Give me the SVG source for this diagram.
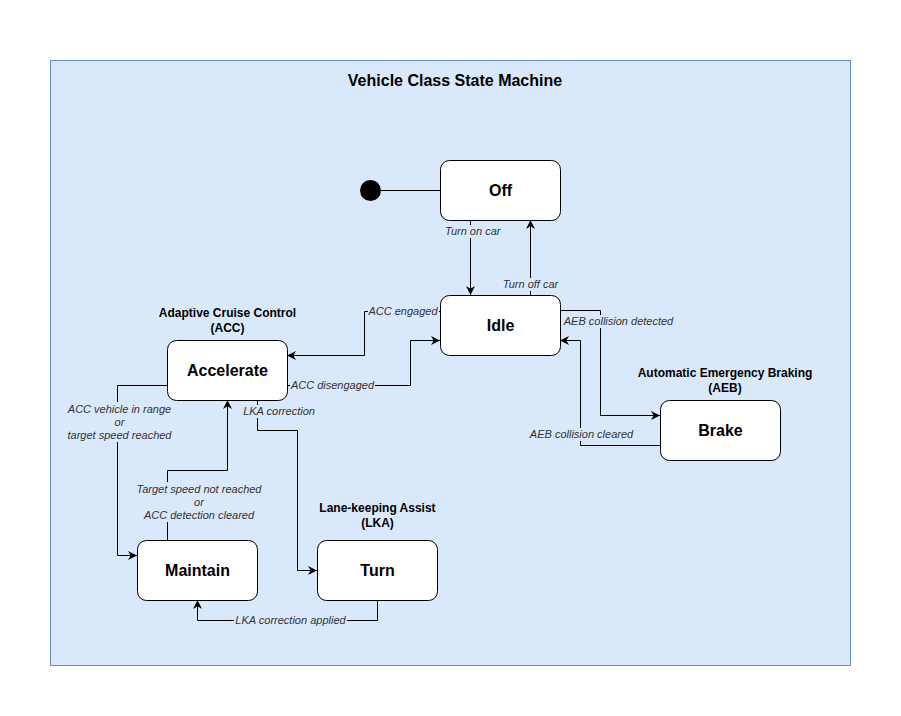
<svg xmlns="http://www.w3.org/2000/svg" width="901" height="716" viewBox="0 0 901 716">
<style>
.state{fill:#ffffff;stroke:#000000;stroke-width:1}
.sname{font-family:"Liberation Sans",Arial,sans-serif;font-weight:bold;font-size:16px;fill:#000;text-anchor:middle}
.grp{font-family:"Liberation Sans",Arial,sans-serif;font-weight:bold;font-size:12px;fill:#000;text-anchor:middle}
.edge{fill:none;stroke:#000;stroke-width:1}
.elbl{font-family:"Liberation Sans",Arial,sans-serif;font-style:italic;font-size:11px;fill:#333333}
.bg{fill:#dae8fc}
</style>
<defs>
<marker id="arr" viewBox="0 0 10 10" refX="10" refY="5" markerWidth="9" markerHeight="9" markerUnits="userSpaceOnUse" orient="auto">
<path d="M0,0 L10,5 L0,10 L3,5 Z" fill="#000"/>
</marker>
</defs>
<rect width="901" height="716" fill="#ffffff"/>
<g id="container">
<rect x="50.5" y="60.5" width="800" height="605" fill="#dae8fc" stroke="#6c8ebf"/>
<text x="455" y="86" class="sname">Vehicle Class State Machine</text>
</g>
<g id="group-labels">
<text x="227.5" y="317" class="grp">Adaptive Cruise Control</text>
<text x="227.5" y="332" class="grp">(ACC)</text>
<text x="377.5" y="512" class="grp">Lane-keeping Assist</text>
<text x="377.5" y="527" class="grp">(LKA)</text>
<text x="725" y="377" class="grp">Automatic Emergency Braking</text>
<text x="725" y="392" class="grp">(AEB)</text>
</g>
<g id="connectors">
<path class="edge" d="M380,190.5 H440"/>
<path class="edge" d="M470.5,220 V295" marker-end="url(#arr)"/>
<path class="edge" d="M530.5,295 V220" marker-end="url(#arr)"/>
<path class="edge" d="M440,311.5 H364.5 V355.5 H287" marker-end="url(#arr)"/>
<path class="edge" d="M287,385.5 H410.5 V340.5 H440" marker-end="url(#arr)"/>
<path class="edge" d="M560,310.5 H600.5 V415.5 H660" marker-end="url(#arr)"/>
<path class="edge" d="M660,445.5 H580.5 V340.5 H560" marker-end="url(#arr)"/>
<path class="edge" d="M167,385.5 H117.5 V555.5 H137" marker-end="url(#arr)"/>
<path class="edge" d="M167.5,540 V470.5 H227.5 V400" marker-end="url(#arr)"/>
<path class="edge" d="M257.5,400 V430.5 H297.5 V570.5 H317" marker-end="url(#arr)"/>
<path class="edge" d="M377.5,600 V620.5 H197.5 V600" marker-end="url(#arr)"/>
<!-- labels -->
<rect class="bg" x="444" y="225" width="58" height="13"/>
<text x="445" y="235" class="elbl">Turn on car</text>
<rect class="bg" x="501" y="278" width="59" height="13"/>
<text x="530.5" y="288" class="elbl" text-anchor="middle">Turn off car</text>
<rect class="bg" x="368" y="305" width="71" height="13"/>
<text x="403" y="315" class="elbl" text-anchor="middle">ACC engaged</text>
<rect class="bg" x="290" y="379" width="85" height="13"/>
<text x="332.5" y="389" class="elbl" text-anchor="middle">ACC disengaged</text>
<rect class="bg" x="563" y="315" width="112" height="13"/>
<text x="618.5" y="325" class="elbl" text-anchor="middle">AEB collision detected</text>
<rect class="bg" x="529" y="428" width="105" height="13"/>
<text x="581.5" y="438" class="elbl" text-anchor="middle">AEB collision cleared</text>
<rect class="bg" x="66" y="402" width="107" height="40"/>
<text class="elbl" text-anchor="middle"><tspan x="119.5" y="412.5">ACC vehicle in range</tspan><tspan x="119.5" y="425.5">or</tspan><tspan x="119.5" y="438.5">target speed reached</tspan></text>
<rect class="bg" x="135" y="482" width="128" height="40"/>
<text class="elbl" text-anchor="middle"><tspan x="199" y="492.5">Target speed not reached</tspan><tspan x="199" y="505.5">or</tspan><tspan x="199" y="518.5">ACC detection cleared</tspan></text>
<rect class="bg" x="242" y="405" width="75" height="13"/>
<text x="279" y="415" class="elbl" text-anchor="middle">LKA correction</text>
<rect class="bg" x="234" y="614" width="113" height="13"/>
<text x="290.5" y="624" class="elbl" text-anchor="middle">LKA correction applied</text>
</g>
<g id="initial">
<circle cx="370.5" cy="190.5" r="10.5" fill="#000"/>
</g>
<g id="off">
<rect class="state" x="440.5" y="160.5" width="120" height="60" rx="9"/>
<text x="500.5" y="196" class="sname">Off</text>
</g>
<g id="idle">
<rect class="state" x="440.5" y="295.5" width="120" height="60" rx="9"/>
<text x="500.5" y="331" class="sname">Idle</text>
</g>
<g id="accelerate">
<rect class="state" x="167.5" y="340.5" width="120" height="60" rx="9"/>
<text x="227.5" y="376" class="sname">Accelerate</text>
</g>
<g id="maintain">
<rect class="state" x="137.5" y="540.5" width="120" height="60" rx="9"/>
<text x="197.5" y="576" class="sname">Maintain</text>
</g>
<g id="turn">
<rect class="state" x="317.5" y="540.5" width="120" height="60" rx="9"/>
<text x="377.5" y="576" class="sname">Turn</text>
</g>
<g id="brake">
<rect class="state" x="660.5" y="400.5" width="120" height="60" rx="9"/>
<text x="720.5" y="436" class="sname">Brake</text>
</g>
</svg>
